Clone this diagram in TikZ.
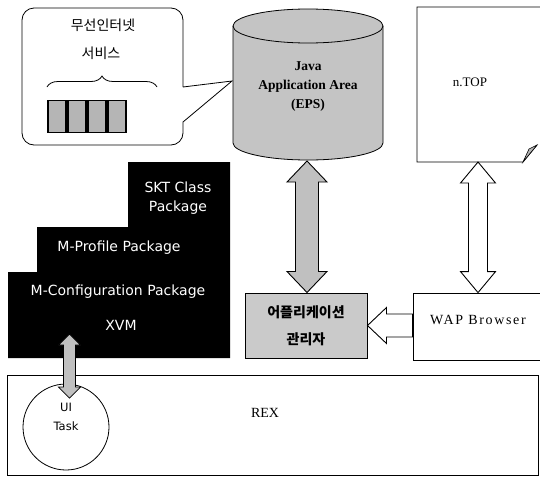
\documentclass[tikz,border=0pt]{standalone}
\usepackage{fontspec}
\setmainfont{Liberation Serif}
\newfontfamily\krfont{Noto Sans CJK KR}
\newfontfamily\wsans{DejaVu Sans}
\usetikzlibrary{calc,decorations.pathreplacing}
\definecolor{cylgray}{HTML}{C4C4C4}
\definecolor{boxgray}{HTML}{CACACA}
\definecolor{arrgray}{HTML}{C0C0C0}
\definecolor{cellgray}{HTML}{B5B5B5}
\newcommand\vdarrow[6]{%
  \draw[#1] let \p1=(#2), \p2=(#3) in
    (\x1,\y1) -- (\x1+#5,\y1-#6) -- (\x1+#4,\y1-#6) -- (\x1+#4,\y2+#6)
    -- (\x1+#5,\y2+#6) -- (\x1,\y2) -- (\x1-#5,\y2+#6) -- (\x1-#4,\y2+#6)
    -- (\x1-#4,\y1-#6) -- (\x1-#5,\y1-#6) -- cycle;}
\tikzset{
  every node/.style={inner sep=0pt},
  outline/.style={draw=black, line width=0.8pt},
  blockarr/.style={draw=black, line width=0.9pt, line join=miter},
  whitetxt/.style={text=white, font=\wsans\fontsize{14}{16}\selectfont},
  cell/.style={draw=black, line width=1.4pt, fill=cellgray, minimum width=18pt, minimum height=32pt},
}
\begin{document}
\begin{tikzpicture}[x=1pt,y=-1pt]
\useasboundingbox[fill=white] (0,0) rectangle (540,477);

% speech bubble
\draw[outline] (183,87) -- (232,81) -- (183,122) [rounded corners=12pt] -- (183,145) -- (22,145) -- (22,8) -- (183,8) -- (183,87);
\node[font=\krfont\fontsize{14}{16}\selectfont] (svc1) at (103,25) {무선인터넷};
\node[font=\krfont\fontsize{14}{16}\selectfont] (svc2) at (101,53) {서비스};
\draw[line width=0.8pt, decorate, decoration={brace, amplitude=11pt}] (47,87) -- (157,87);
\node[cell] (c1) at (57,116.5) {};
\node[cell] (c2) at (77,116.5) {};
\node[cell] (c3) at (97,116.5) {};
\node[cell] (c4) at (117,116.5) {};

% cylinder
\filldraw[fill=cylgray, outline] (233,26) -- (233,143) arc[start angle=180, end angle=360, x radius=75pt, y radius=17pt]
  -- (383,26) arc[start angle=0, end angle=180, x radius=75pt, y radius=17pt] -- cycle;
\draw[outline] (233,26) arc[start angle=180, end angle=360, x radius=75pt, y radius=17pt];
\node[align=center, font=\bfseries\fontsize{13.5}{19}\selectfont] (java) at (308,87) {Java\\Application Area\\(EPS)};
\coordinate (cylbot) at (307,161);

% n.TOP note
\draw[outline] (545,7) -- (417,7) -- (417,162) -- (523,162) -- (537,145);
\filldraw[fill=cellgray, draw=black, line width=0.6pt] (523,162) -- (537,145) -- (529,149) -- cycle;
\node[font=\fontsize{13}{15}\selectfont] (ntop) at (470,82) {n.TOP};
\coordinate (ntopbot) at (478,162);

% black stair block
\fill[black] (128,162) -- (230,162) -- (230,358) -- (8,358) -- (8,272) -- (37,272) -- (37,227) -- (128,227) -- cycle;
\node[whitetxt] (skt1) at (178,187) {SKT Class};
\node[whitetxt] (skt2) at (178,208) {Package};
\node[whitetxt] (mprof) at (119,248) {M-Profile Package};
\node[whitetxt] (mconf) at (118,292) {M-Configuration Package};
\node[whitetxt] (xvm) at (121,325) {XVM};
\coordinate (xvmarr) at (69.5,334);

% application manager
\node[draw=black, line width=1pt, fill=boxgray, minimum width=122pt, minimum height=65pt,
      align=center, font=\krfont\bfseries\fontsize{14}{27}\selectfont] (mgr) at (306,325.5) {어플리케이션\\관리자};

% WAP browser
\node[outline, minimum width=132pt, minimum height=67pt] (wap) at (479,326.5) {};
\node[font=\addfontfeature{LetterSpace=12}\fontsize{14}{16}\selectfont] (waptxt) at (478,320) {WAP Browser};

% REX
\node[outline, minimum width=531pt, minimum height=100pt] (rex) at (272.5,425) {};
\node[font=\fontsize{14}{16}\selectfont] (rextxt) at (265,413) {REX};

% UI task
\node[circle, draw=black, line width=0.8pt, fill=white, minimum size=86pt] (ui) at (66,427) {};
\node[align=center, font=\wsans\fontsize{11.5}{19}\selectfont] (uitxt) at (66,417) {UI\\Task};
\coordinate (uiin) at (69.5,398);

% block arrows
\vdarrow{blockarr, fill=arrgray}{cylbot}{mgr.north}{11.5pt}{20pt}{21pt}
\vdarrow{blockarr, fill=white}{ntopbot}{wap.north}{9.5pt}{17.5pt}{21pt}
\vdarrow{blockarr, fill=arrgray, line width=0.7pt}{xvmarr}{uiin}{6pt}{11pt}{11pt}
\draw[blockarr, fill=white] let \p1=(wap.west), \p2=(mgr.east) in
  (\x2,\y2) -- (\x2+19pt,\y2+18pt) -- (\x2+19pt,\y2+11.5pt) -- (\x1,\y2+11.5pt)
  -- (\x1,\y2-11.5pt) -- (\x2+19pt,\y2-11.5pt) -- (\x2+19pt,\y2-18pt) -- cycle;
\end{tikzpicture}
\end{document}
